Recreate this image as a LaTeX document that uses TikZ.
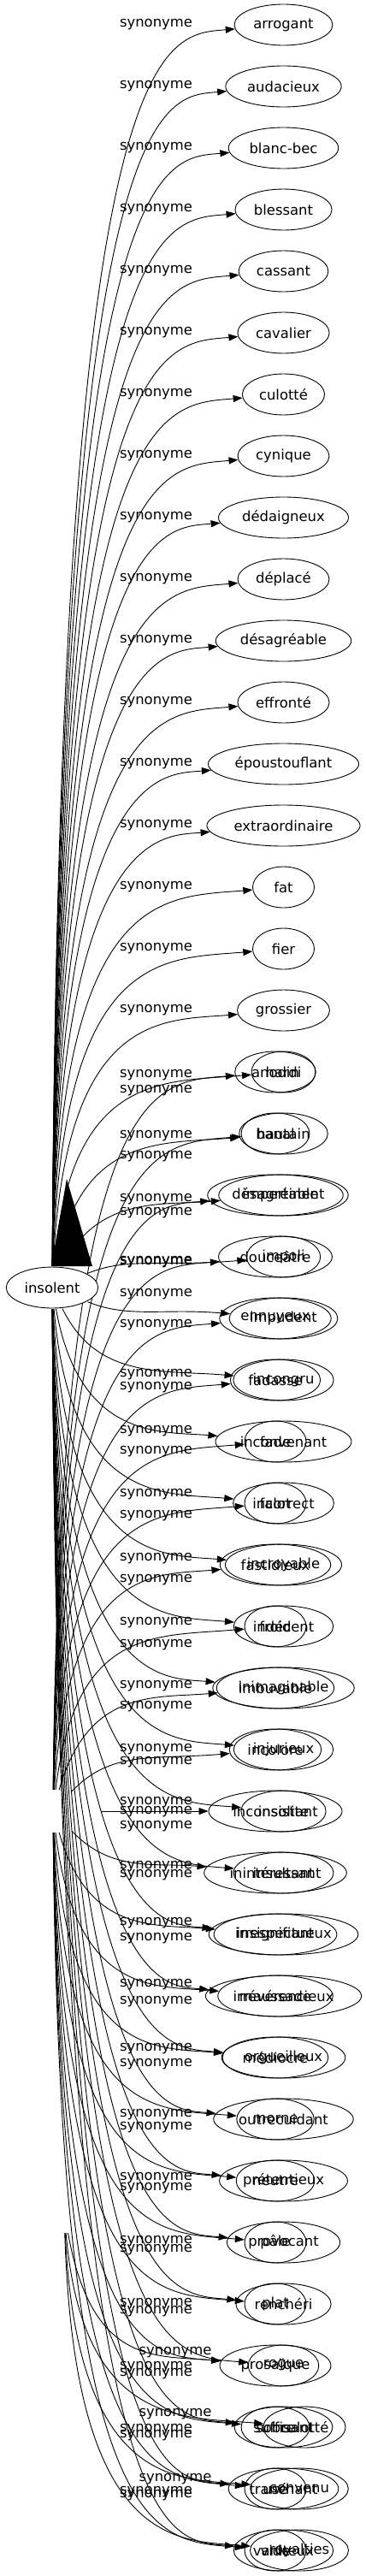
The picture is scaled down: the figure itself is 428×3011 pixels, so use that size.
\documentclass[tikz,border=0pt]{standalone}
\usepackage{fontspec}
\setmainfont{DejaVu Sans}
\usetikzlibrary{arrows.meta,calc,shapes.geometric}
\tikzset{
  wfont/.style={font=\fontsize{16.4}{19}\selectfont},
  syn/.style={wfont,ellipse,draw,line width=0.9pt,minimum height=48pt,minimum width=72pt,inner xsep=5.5pt,inner ysep=2pt},
  lab/.style={wfont,inner sep=0pt},
  edge/.style={line width=0.9pt,-{Triangle[length=11pt,width=8pt]}},
  hub/.style={ellipse,minimum width=112pt,minimum height=50pt,draw=none,inner sep=0pt},
}
\newcommand\edgeto[4]{%
  \pgfmathsetmacro\edgeH{8+110*exp(-abs((#4)-(#3))/120)}%
  \pgfmathsetmacro\edgeV{((#4)<(#3))?12:(((#4)>(#3))?-12:0)}%
  \draw[edge] (#1) .. controls ($(#1 |- #2)+(\edgeH,0)$) and ($(#2)+(-141,\edgeV)$) .. (#2);%
}
\begin{document}
\begin{tikzpicture}[x=1pt,y=-1pt]
\useasboundingbox (0,0) rectangle (428,3011);
% hidden hubs
\node[hub] (bhub) at (62,2117) {};
\node[hub] (chub) at (75,2585) {};
\node[hub] (ins0) at (61,1505) {};
% graph A nodes
\foreach \w [count=\i from 0] in {arrogant,audacieux,blanc-bec,blessant,cassant,cavalier,culotté,cynique,dédaigneux,déplacé,désagréable,effronté,époustouflant,extraordinaire,fat,fier,grossier,hardi,hautain,impertinent,impoli,impudent,incongru,inconvenant,incorrect,incroyable,indécent,inimaginable,injurieux,insolite,insultant,irrespectueux,irrévérencieux,orgueilleux,outrecuidant,prétentieux,provocant,renchéri,rogue,suffisant,tranchant,vaniteux}
  \node[syn] (a\i) at (331.5,{29+72*\i}) {\w};
% graph B nodes
\foreach \w [count=\i from 17] in {anodin,banal,désagréable,douceâtre,ennuyeux,fadasse,fade,falot,fastidieux,froid,imbuvable,incolore,inconsistant,inintéressant,insignifiant,maussade,médiocre,morne,neutre,pâle,plat,prosaïque,sobre,usé,vide}
  \node[syn] (b\i) at (322,{29+72*\i}) {\w};
% graph C nodes
\node[syn] (c39) at (356,2837) {culotté};
\node[syn] (c40) at (350,2909) {convenu};
\node[syn] (c41) at (350,2981) {royalties};
% edges A
\foreach \i in {0,...,41} {\edgeto{ins0}{a\i}{1505}{29+72*\i}}
% edges B
\foreach \i in {17,...,41} {\edgeto{bhub}{b\i}{2117}{29+72*\i}}
% edges C
\edgeto{chub}{b38}{2585}{2765}
\foreach \i in {39,40,41} {\edgeto{chub}{c\i}{2585}{29+72*\i}}
% big arrowhead
\fill (78,1378) -- (60,1480) -- (108,1480) -- cycle;
% labels
\foreach \i in {0,...,16}
  \node[lab] (la\i) at (182.5,{29+72*\i}) {synonyme};
\foreach \y [count=\k] in {1257,1275,1328,1352,1402,1418,1475,1476,1513,1549,1607,1622,1673,1697,1747,1772,1822,1847,1897,1923,1971,1995,2045,2060,2107,2118,2135,2182,2192,2248,2266,2320,2340,2395,2413,2472,2487,2546,2558,2620,2630,2693,2702,2767,2775,2840,2847,2913,2917}
  \node[lab] (lx\k) at (182.5,\y) {synonyme};
\foreach \y [count=\k] in {2750,2822,2898}
  \node[lab] (lc\k) at (205,\y) {synonyme};
% center node
\node[syn,fill=white] (ins) at (61,1505) {insolent};
\end{tikzpicture}
\end{document}
